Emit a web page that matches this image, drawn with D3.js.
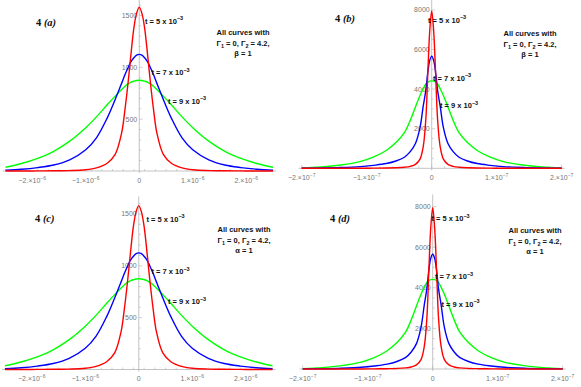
<!DOCTYPE html>
<html>
<head>
<meta charset="utf-8">
<script src="https://cdn.jsdelivr.net/npm/d3@7"></script>
<style>
  body { margin: 0; background: #fff; }
  svg { display: block; }
  .tick-label { font-family: "Liberation Sans", Arial, sans-serif; font-size: 7px; fill: #777; }
  .curve-label { font-family: "Liberation Sans", Arial, sans-serif; font-size: 7.5px; font-weight: bold; fill: #111; }
  .panel-title { font-family: "Liberation Serif", "Times New Roman", serif; font-size: 10.5px; font-weight: bold; fill: #111; }
</style>
</head>
<body>
<div id="chart"></div>
<script>
// ---- data ----
// panels (a) and (c): x in units of 1e-6
const xsA = [-2.5, -2.2, -1.9, -1.6, -1.3, -1.0, -0.8, -0.6, -0.45, -0.33, -0.27, -0.21, -0.16, -0.1, -0.05, 0,
             0.05, 0.1, 0.16, 0.21, 0.27, 0.33, 0.45, 0.6, 0.8, 1.0, 1.3, 1.6, 1.9, 2.2, 2.5]
const redA = [0, 0, 1, 2, 4, 12, 30, 75, 160, 365, 580, 846, 1100, 1380, 1520, 1580,
              1520, 1380, 1100, 846, 580, 365, 160, 75, 30, 12, 4, 2, 1, 0, 0]
const blueA = [8, 17, 33, 58, 108, 205, 320, 510, 690, 845, 925, 995, 1050, 1092, 1117, 1125,
               1117, 1092, 1050, 995, 925, 845, 690, 510, 320, 205, 108, 58, 33, 17, 8]
const greenA = [36, 72, 122, 190, 288, 418, 522, 638, 722, 785, 815, 840, 855, 866, 873, 875,
                873, 866, 855, 840, 815, 785, 722, 638, 522, 418, 288, 190, 122, 72, 36]

// panels (b) and (d): x in units of 1e-7
const xsB = [-2.0, -1.7, -1.4, -1.1, -0.9, -0.7, -0.55, -0.42, -0.33, -0.25, -0.18, -0.13, -0.09, -0.06, -0.03, 0,
             0.03, 0.06, 0.09, 0.13, 0.18, 0.25, 0.33, 0.42, 0.55, 0.7, 0.9, 1.1, 1.4, 1.7, 2.0]
const redB = [0, 0, 1, 3, 7, 15, 28, 55, 100, 200, 460, 1100, 2500, 4800, 6950, 7950,
              6950, 4800, 2500, 1100, 460, 200, 100, 55, 28, 15, 7, 3, 1, 0, 0]
const blueB = [5, 14, 38, 85, 150, 240, 370, 560, 840, 1250, 2050, 3150, 3950, 4850, 5450, 5665,
               5450, 4850, 3950, 3150, 2050, 1250, 840, 560, 370, 240, 150, 85, 38, 14, 5]
const greenB = [15, 65, 165, 340, 560, 900, 1300, 1800, 2420, 3100, 3680, 4020, 4260, 4350, 4400, 4415,
                4400, 4350, 4260, 4020, 3680, 3100, 2420, 1800, 1300, 900, 560, 340, 165, 65, 15]

const seriesNames = ["t = 5 x 10", "t = 7 x 10", "t = 9 x 10"]
const seriesColors = ["#ff0000", "#0000ff", "#00ff00"]

const xTicksA = [-2, -1, 0, 1, 2]        // x 1e-6
const yTicksA = [500, 1000, 1500]
const xTicksB = [-2, -1, 0, 1, 2]        // x 1e-7
const yTicksB = [2000, 4000, 6000, 8000]

// ---- layout ----
const W = 581, H = 387
const panels = [
  {tag: "a", kind: "A", xr: [5.5, 273], y0: 171, ppu: 0.1037, extra: "β = 1",
   title: [36, 26], note: [243, 35], labels: [[145, 23.5], [151.5, 75], [168, 103.5]]},
  {tag: "b", kind: "B", xr: [301.7, 561.7], y0: 168.3, ppu: 0.0198, extra: "β = 1",
   title: [335, 22], note: [530, 36], labels: [[428, 22.5], [433, 80.5], [440, 108]]},
  {tag: "c", kind: "A", xr: [5, 272.5], y0: 369.5, ppu: 0.1037, extra: "α = 1",
   title: [35, 222], note: [244, 232], labels: [[146.5, 221.5], [151.5, 274], [168, 304]]},
  {tag: "d", kind: "B", xr: [302.7, 562.7], y0: 369, ppu: 0.0203, extra: "α = 1",
   title: [330, 222], note: [535, 233], labels: [[431.5, 221], [435, 279], [441.5, 306.5]]}
]

const svg = d3.select("#chart").append("svg")
  .attr("width", W).attr("height", H)

for (const p of panels) {
  const isA = p.kind === "A"
  const xs = isA ? xsA : xsB
  const ys = isA ? [redA, blueA, greenA] : [redB, blueB, greenB]
  const xMax = isA ? 2.5 : 2
  const expo = isA ? "−6" : "−7"
  const yMax = isA ? 1650 : 8500

  const x = d3.scaleLinear().domain([-xMax, xMax]).range(p.xr)
  const y = d3.scaleLinear().domain([0, yMax]).range([p.y0, p.y0 - yMax * p.ppu])

  const g = svg.append("g")

  // axes
  const axisCol = "#b4b4b4"
  g.append("line").attr("x1", p.xr[0] - 3).attr("x2", p.xr[1] + 3)
    .attr("y1", p.y0).attr("y2", p.y0).attr("stroke", axisCol).attr("stroke-width", 0.8)
  g.append("line").attr("x1", x(0)).attr("x2", x(0))
    .attr("y1", p.y0 + 2).attr("y2", y(yMax) - 2).attr("stroke", axisCol).attr("stroke-width", 0.8)

  // x ticks (major + minor)
  const xMinor = d3.range(-xMax, xMax + 1e-9, 0.2).map(v => Math.round(v * 10) / 10)
  g.selectAll(null).data(xMinor).join("line")
    .attr("x1", d => x(d)).attr("x2", d => x(d))
    .attr("y1", p.y0).attr("y2", d => p.y0 - (Number.isInteger(d) ? 3.5 : 2))
    .attr("stroke", axisCol).attr("stroke-width", 0.6)

  const xt = g.selectAll(null).data(isA ? xTicksA : xTicksB).join("text")
    .attr("class", "tick-label")
    .attr("x", d => x(d)).attr("y", p.y0 + 11.5)
    .attr("text-anchor", "middle")
  xt.each(function(d) {
    const t = d3.select(this)
    if (d === 0) { t.text("0"); return }
    t.append("tspan").text((d < 0 ? "−" : "") + Math.abs(d) + ".×10")
    t.append("tspan").attr("dy", -3).attr("font-size", 5).text(expo)
  })

  // y ticks (major + minor)
  const yStep = isA ? 100 : 500
  const yMajor = isA ? yTicksA : yTicksB
  const yMinor = d3.range(yStep, yMax, yStep)
  g.selectAll(null).data(yMinor).join("line")
    .attr("x1", x(0)).attr("x2", d => x(0) + (yMajor.includes(d) ? 3.5 : 2))
    .attr("y1", d => y(d)).attr("y2", d => y(d))
    .attr("stroke", axisCol).attr("stroke-width", 0.6)
  g.selectAll(null).data(yMajor).join("text")
    .attr("class", "tick-label")
    .attr("x", x(0) - 2).attr("y", d => y(d) + 2.5)
    .attr("text-anchor", "end")
    .text(d => d)

  // curves
  const line = d3.line().curve(d3.curveCatmullRom.alpha(0.5))
  const order = [2, 1, 0]
  for (const i of order) {
    const pts = xs.map((v, k) => [x(v), y(ys[i][k])])
    g.append("path").attr("d", line(pts))
      .attr("fill", "none").attr("stroke", seriesColors[i]).attr("stroke-width", 1.4)
  }

  // curve labels
  seriesNames.forEach((s, i) => {
    const t = g.append("text").attr("class", "curve-label")
      .attr("x", p.labels[i][0]).attr("y", p.labels[i][1])
    t.append("tspan").text(s)
    t.append("tspan").attr("dy", -3.5).attr("font-size", 5.5).text("−3")
  })

  // panel title
  const tt = g.append("text").attr("class", "panel-title")
    .attr("x", p.title[0]).attr("y", p.title[1])
  tt.append("tspan").text("4 ")
  tt.append("tspan").attr("font-style", "italic").text("(" + p.tag + ")")

  // note
  const nx = p.note[0], ny = p.note[1]
  g.append("text").attr("class", "curve-label").attr("x", nx).attr("y", ny)
    .attr("text-anchor", "middle").text("All curves with")
  const n2 = g.append("text").attr("class", "curve-label").attr("x", nx).attr("y", ny + 10.5)
    .attr("text-anchor", "middle")
  n2.append("tspan").text("Γ")
  n2.append("tspan").attr("dy", 2).attr("font-size", 5.5).text("1")
  n2.append("tspan").attr("dy", -2).text(" = 0, Γ")
  n2.append("tspan").attr("dy", 2).attr("font-size", 5.5).text("2")
  n2.append("tspan").attr("dy", -2).text(" = 4.2,")
  g.append("text").attr("class", "curve-label").attr("x", nx).attr("y", ny + 20.5)
    .attr("text-anchor", "middle").attr("font-weight", "normal").attr("fill", "#222")
    .text(p.extra)
}
</script>
</body>
</html>
